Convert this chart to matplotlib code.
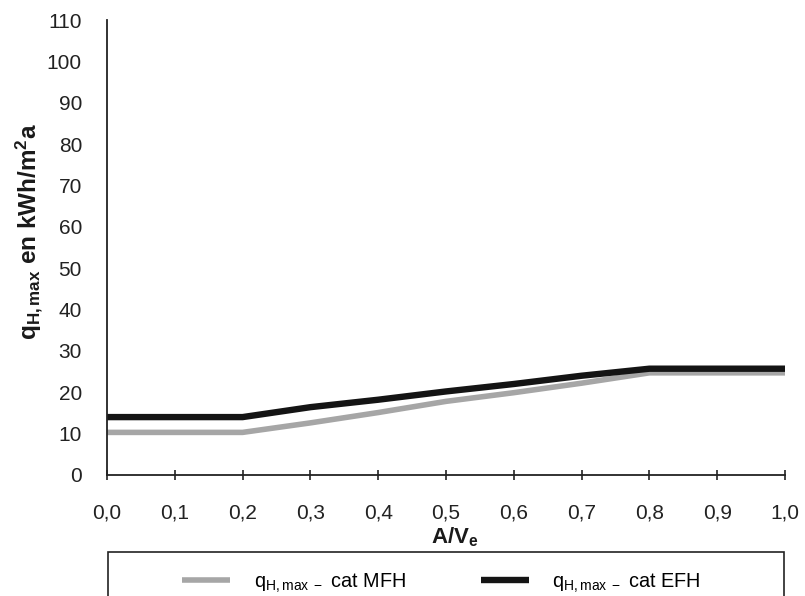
import numpy as np
import matplotlib
matplotlib.use("Agg")
import matplotlib.pyplot as plt
from matplotlib.patches import Rectangle

plt.rcParams['font.family'] = ['Liberation Sans', 'DejaVu Sans']
plt.rcParams['mathtext.fontset'] = 'custom'
plt.rcParams['mathtext.rm'] = 'Liberation Sans'
plt.rcParams['mathtext.it'] = 'Liberation Sans:italic'
plt.rcParams['mathtext.bf'] = 'Liberation Sans:bold'

# data
av = [0.0, 0.1, 0.2, 0.3, 0.4, 0.5, 0.6, 0.7, 0.8, 0.9, 1.0]
q_mfh = [10.3, 10.3, 10.3, 12.6, 15.1, 17.8, 19.9, 22.2, 24.7, 24.7, 24.7]
q_efh = [14.0, 14.0, 14.0, 16.4, 18.2, 20.2, 22.0, 24.0, 25.7, 25.7, 25.7]
x_ticks = [0.0, 0.1, 0.2, 0.3, 0.4, 0.5, 0.6, 0.7, 0.8, 0.9, 1.0]
x_labels = ['0,0', '0,1', '0,2', '0,3', '0,4', '0,5', '0,6', '0,7', '0,8', '0,9', '1,0']
y_ticks = [0, 10, 20, 30, 40, 50, 60, 70, 80, 90, 100, 110]

fig = plt.figure(figsize=(8.05, 5.96), dpi=100)
W, H = 805, 596
ax = fig.add_axes([107 / W, 1 - 475 / H, (785 - 107) / W, (475 - 20) / H])

l1, = ax.plot(av, q_mfh, color='#a6a6a6', lw=4.0, solid_capstyle='butt')
l2, = ax.plot(av, q_efh, color='#141414', lw=4.6, solid_capstyle='butt')

ax.set_xlim(0, 1.0)
ax.set_ylim(0, 110)
ax.set_xticks(x_ticks)
ax.set_xticklabels(x_labels)
ax.set_yticks(y_ticks)
ax.spines['top'].set_visible(False)
ax.spines['right'].set_visible(False)
for s in ['left', 'bottom']:
    ax.spines[s].set_linewidth(1.3)
    ax.spines[s].set_color('#222222')
ax.tick_params(axis='y', length=0, pad=18, labelsize=15, labelcolor='#222222')
ax.tick_params(axis='x', direction='inout', length=7, width=1.2, pad=17,
               labelsize=15, labelcolor='#222222', color='#222222')

ax.set_ylabel(r'q$_{\mathbf{H,max}}$ en kWh/m$^{\mathbf{2}}$a', fontsize=17.5,
              fontweight='bold', color='#1a1a1a', va='center')
ax.yaxis.set_label_coords(-0.115, 0.534)
ax.set_xlabel(r'A/V$_{\mathbf{e}}$', fontsize=16, fontweight='bold', color='#1a1a1a',
              va='center')
ax.xaxis.set_label_coords(0.513, -0.136)

# legend box running off the bottom edge
fig.patches.append(Rectangle((108 / W, -0.05), (784 - 108) / W, 0.05 + (H - 552) / H,
                             transform=fig.transFigure, fill=False,
                             edgecolor='#222222', lw=1.2))
leg = fig.legend([l1, l2],
                 [r'q$_{\mathregular{H,max\ -}}$ cat MFH', r'q$_{\mathregular{H,max\ -}}$ cat EFH'],
                 loc='center left', bbox_to_anchor=(182 / W, 1 - 583 / H),
                 ncol=2, frameon=False, fontsize=14.3, handlelength=2.4,
                 handletextpad=1.2, columnspacing=3.8, borderpad=0, borderaxespad=0)

fig.savefig('out.png', dpi=100)
